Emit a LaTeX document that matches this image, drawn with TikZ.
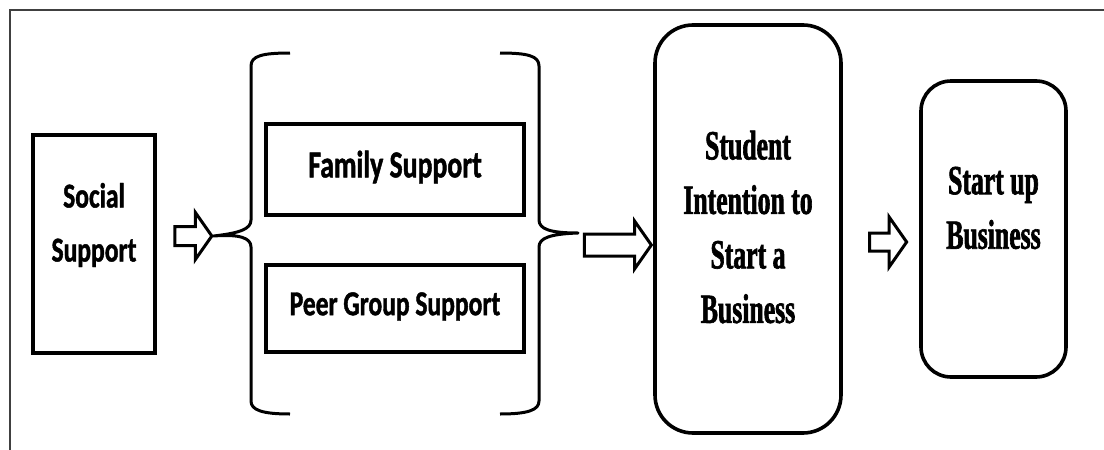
\documentclass[tikz,border=0pt]{standalone}
\usepackage{fontspec}
\usetikzlibrary{shapes.arrows}
\newfontfamily\calb{Carlito}[UprightFont={* Bold},FakeStretch=0.73,FakeBold=1.2]
\newfontfamily\timb{Liberation Serif}[UprightFont={* Bold},FakeStretch=0.62,FakeBold=1.5]
\begin{document}
\begin{tikzpicture}[x=1pt,y=-1pt,
  sqbox/.style={draw=black,line width=3.8pt,inner sep=0pt},
  rbox/.style={draw=black,line width=3.6pt,inner sep=0pt},
  caltext/.style={align=center,inner sep=0pt,font=\calb\fontsize{35}{54}\selectfont},
  timtext/.style={align=center,inner sep=0pt,font=\timb\fontsize{41.5}{54.5}\selectfont},
  barrow/.style={draw=black,line width=3pt,single arrow,inner xsep=0pt,single arrow tip angle=110},
  brace/.style={draw=black,line width=3pt,line join=round}
]
\useasboundingbox (0,0) rectangle (1104,450);
% outer frame
\coordinate (ftl) at (10,10);
\coordinate (ftr) at (1104,10);
\coordinate (fbl) at (10,450);
\draw[line width=1.6pt,black!75] (ftr) -- (ftl) -- (fbl);

% boxes
\node[sqbox,minimum width=122pt,minimum height=218pt] (social) at (94,244) {};
\node[caltext] (socialtxt) at (94,225) {Social\\Support};

\node[sqbox,minimum width=258pt,minimum height=91pt] (family) at (395,169.5) {};
\node[caltext,font=\calb\fontsize{38}{54}\selectfont] (familytxt) at (395,167) {Family Support};

\node[sqbox,minimum width=258pt,minimum height=87pt] (peer) at (395,308.5) {};
\node[caltext] (peertxt) at (395,306.5) {Peer Group Support};

\node[rbox,rounded corners=38pt,minimum width=186pt,minimum height=408pt] (student) at (748,229) {};
\node[timtext] (studenttxt) at (748,227) {Student\\Intention to\\Start a\\Business};

\node[rbox,rounded corners=30pt,minimum width=145pt,minimum height=296pt] (startup) at (993.5,229) {};
\node[timtext] (startuptxt) at (993.5,208) {Start up\\Business};

% block arrows
\node[barrow,minimum height=37pt,inner ysep=8pt,single arrow head extend=14pt] (a1) at (190,236) {};
\node[barrow,minimum height=67pt,inner ysep=9.5pt,single arrow head extend=13pt] (a2) at (614,245) {};
\node[barrow,minimum height=37pt,inner ysep=7.5pt,single arrow head extend=16pt] (a3) at (885,242) {};

% braces
\draw[brace] (290,53) .. controls (262,53) and (251,56) .. (251,66) -- (251,220)
  .. controls (251,229) and (240,233) .. (a1.tip)
  .. controls (240,234) and (251,238) .. (251,247) -- (251,401)
  .. controls (251,410) and (262,414) .. (290,414);
\coordinate (rtip) at (578,233);
\draw[brace] (500,53) .. controls (528,53) and (539,56) .. (539,66) -- (539,220)
  .. controls (539,229) and (550,233) .. (rtip)
  .. controls (550,234) and (539,238) .. (539,247) -- (539,401)
  .. controls (539,410) and (528,414) .. (500,414);
\end{tikzpicture}
\end{document}
